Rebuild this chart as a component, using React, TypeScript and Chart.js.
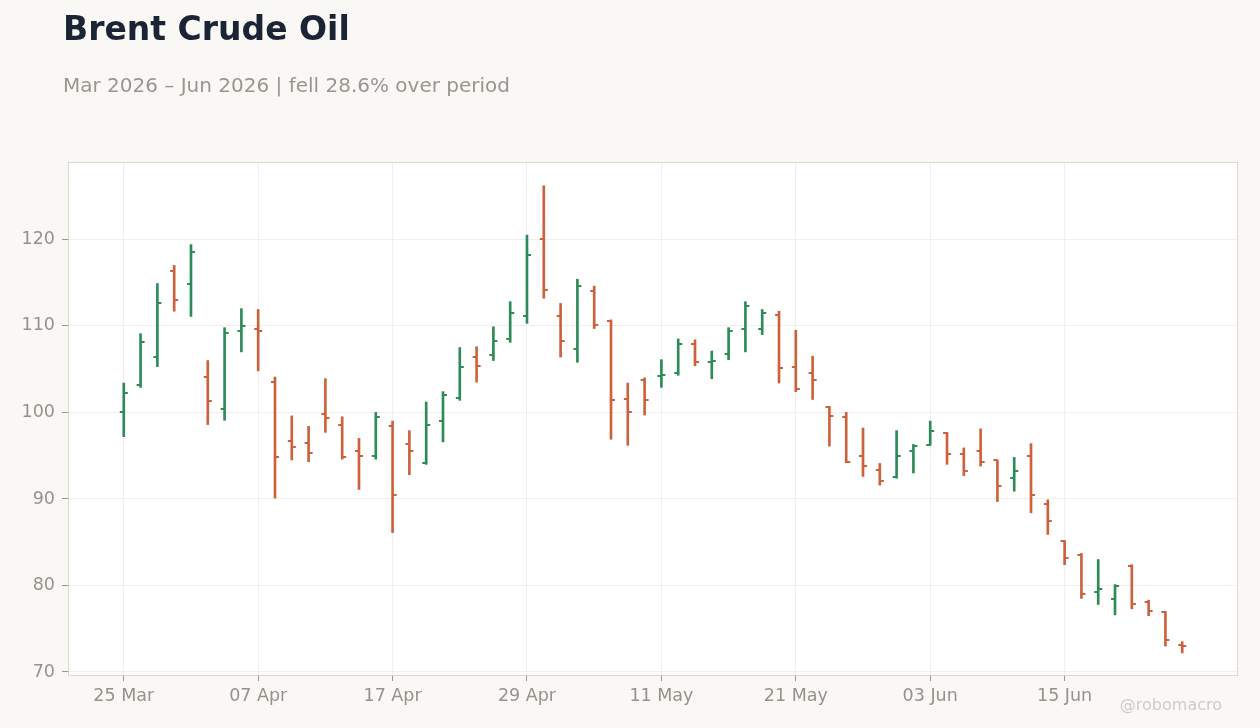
import { useEffect, useRef } from "react";
import { Chart, registerables } from "chart.js";

Chart.register(...registerables);

// trading days (Good Friday and Memorial Day skipped)
const dates = [
  "25 Mar", "26 Mar", "27 Mar", "30 Mar", "31 Mar", "01 Apr", "02 Apr", "06 Apr",
  "07 Apr", "08 Apr", "09 Apr", "10 Apr", "13 Apr", "14 Apr", "15 Apr", "16 Apr",
  "17 Apr", "20 Apr", "21 Apr", "22 Apr", "23 Apr", "24 Apr", "27 Apr", "28 Apr",
  "29 Apr", "30 Apr", "01 May", "04 May", "05 May", "06 May", "07 May", "08 May",
  "11 May", "12 May", "13 May", "14 May", "15 May", "18 May", "19 May", "20 May",
  "21 May", "22 May", "26 May", "27 May", "28 May", "29 May", "01 Jun", "02 Jun",
  "03 Jun", "04 Jun", "05 Jun", "08 Jun", "09 Jun", "10 Jun", "11 Jun", "12 Jun",
  "15 Jun", "16 Jun", "17 Jun", "18 Jun", "19 Jun", "22 Jun", "23 Jun", "24 Jun"
];

const open = [
  100.1, 103.2, 106.4, 116.3, 114.9, 104.1, 100.4, 109.4, 109.7, 103.5, 96.7, 96.5, 99.8, 98.5, 95.6, 95.0,
  98.4, 96.3, 94.1, 99.0, 101.7, 106.4, 106.6, 108.5, 111.1, 120.1, 111.1, 107.3, 114.0, 110.6, 101.6, 103.7,
  104.2, 104.6, 107.9, 105.8, 106.7, 109.7, 109.7, 111.3, 105.3, 104.6, 100.6, 99.5, 95.0, 93.4, 92.5, 95.5,
  96.2, 97.6, 95.2, 95.6, 94.5, 92.4, 95.0, 89.4, 85.1, 83.5, 79.3, 78.4, 82.3, 78.1, 76.9, 73.1
];
const high = [
  103.4, 109.1, 114.9, 117.0, 119.4, 106.0, 109.8, 112.0, 111.9, 104.1, 99.6, 98.4, 103.9, 99.5, 97.0, 100.0,
  99.0, 97.9, 101.2, 102.4, 107.5, 107.6, 109.9, 112.8, 120.5, 126.2, 112.6, 115.4, 114.6, 110.7, 103.4, 104.0,
  106.1, 108.5, 108.4, 107.1, 109.8, 112.8, 111.9, 111.7, 109.5, 106.5, 100.7, 100.0, 98.2, 94.1, 97.9, 96.3,
  99.0, 97.7, 95.9, 98.1, 94.5, 94.8, 96.4, 89.9, 85.2, 83.7, 83.0, 80.1, 82.4, 78.3, 77.0, 73.5
];
const low = [
  97.2, 102.9, 105.3, 111.7, 111.1, 98.6, 99.1, 107.0, 104.8, 90.1, 94.5, 94.3, 97.7, 94.6, 91.1, 94.6,
  86.1, 92.8, 94.0, 96.6, 101.4, 103.5, 106.0, 108.1, 110.3, 113.2, 106.4, 105.8, 109.7, 96.9, 96.2, 99.7,
  102.9, 104.3, 105.4, 103.9, 106.1, 107.0, 109.0, 103.4, 102.4, 101.5, 96.1, 94.2, 92.6, 91.6, 92.4, 93.0,
  96.2, 94.0, 92.7, 93.8, 89.7, 90.9, 88.4, 85.9, 82.4, 78.5, 77.8, 76.6, 77.3, 76.5, 73.0, 72.2
];
const close = [
  102.3, 108.1, 112.7, 113.0, 118.5, 101.3, 109.2, 110.0, 109.4, 94.8, 96.0, 95.3, 99.4, 94.9, 95.0, 99.5,
  90.4, 95.6, 98.6, 102.0, 105.2, 105.4, 108.3, 111.5, 118.2, 114.1, 108.3, 114.6, 110.1, 101.4, 100.1, 101.4,
  104.3, 107.9, 105.8, 105.9, 109.4, 112.3, 111.5, 105.1, 102.7, 103.7, 99.6, 94.3, 93.8, 92.1, 95.0, 96.1,
  97.9, 95.2, 93.2, 94.3, 91.5, 93.2, 90.4, 87.4, 83.2, 79.0, 79.6, 79.9, 77.9, 77.1, 73.7, 73.0
];

const xTickIndex = [0, 8, 16, 24, 32, 40, 48, 56];
const yTickValues = [70, 80, 90, 100, 110, 120];

const UP = "#2e8b57";
const DOWN = "#cb613d";
const TICK_TEXT = "#96918c";
const GRID = "#efefef";
const FRAME = "#ddd7ce";

function makeTick(color: string, side: "left" | "right") {
  const c = document.createElement("canvas");
  c.width = 10;
  c.height = 2;
  const g = c.getContext("2d")!;
  g.fillStyle = color;
  g.fillRect(side === "left" ? 1 : 5, 0, 4, 2);
  return c;
}

const plotFrame = {
  id: "plotFrame",
  beforeDraw(chart: Chart) {
    const { ctx, chartArea } = chart;
    const { left, top, right, bottom } = chartArea;
    ctx.save();
    ctx.fillStyle = "#ffffff";
    ctx.fillRect(left, top, right - left, bottom - top);
    ctx.restore();
  },
  beforeDatasetsDraw(chart: Chart) {
    const { ctx, chartArea } = chart;
    const { left, top, right, bottom } = chartArea;
    ctx.save();
    ctx.strokeStyle = FRAME;
    ctx.lineWidth = 1;
    ctx.strokeRect(left + 0.5, top + 0.5, right - left - 1, bottom - top);
    ctx.restore();
  }
};

function OhlcChart() {
  const canvasRef = useRef<HTMLCanvasElement | null>(null);

  useEffect(() => {
    const canvas = canvasRef.current;
    if (!canvas) return;

    const isUp = close.map((c, i) => c >= open[i]);
    const openUp = makeTick(UP, "left");
    const openDown = makeTick(DOWN, "left");
    const closeUp = makeTick(UP, "right");
    const closeDown = makeTick(DOWN, "right");

    const font = { family: "'DejaVu Sans'", size: 17.5 };

    const chart = new Chart(canvas, {
      type: "bar",
      data: {
        datasets: [
          {
            type: "bar",
            data: dates.map((_, i) => ({ x: i, y: [low[i], high[i]] })) as any,
            backgroundColor: isUp.map((u) => (u ? UP : DOWN)),
            barThickness: 2,
            borderWidth: 0,
            grouped: false
          },
          {
            type: "line",
            data: dates.map((_, i) => ({ x: i, y: open[i] })),
            showLine: false,
            pointStyle: (ctx: any) => (isUp[ctx.dataIndex] ? openUp : openDown),
            pointRadius: 3
          },
          {
            type: "line",
            data: dates.map((_, i) => ({ x: i, y: close[i] })),
            showLine: false,
            pointStyle: (ctx: any) => (isUp[ctx.dataIndex] ? closeUp : closeDown),
            pointRadius: 3
          }
        ] as any
      },
      options: {
        animation: false,
        responsive: false,
        events: [],
        layout: { padding: { top: 162, right: 22, bottom: 0, left: 0 } },
        plugins: { legend: { display: false }, tooltip: { enabled: false } },
        scales: {
          x: {
            type: "linear",
            min: -3.32,
            max: 66.32,
            offset: false,
            afterBuildTicks: (scale: any) => {
              scale.ticks = xTickIndex.map((v) => ({ value: v }));
            },
            afterFit: (scale: any) => {
              scale.height = 53;
            },
            ticks: {
              color: TICK_TEXT,
              font,
              padding: 5,
              maxRotation: 0,
              autoSkip: false,
              callback: (value: any) => dates[Number(value)] ?? ""
            },
            grid: { color: GRID, tickColor: "#9a9590", tickLength: 6, offset: false },
            border: { display: false }
          },
          y: {
            type: "linear",
            min: 69.65,
            max: 128.95,
            afterBuildTicks: (scale: any) => {
              scale.ticks = yTickValues.map((v) => ({ value: v }));
            },
            afterFit: (scale: any) => {
              scale.width = 68;
            },
            ticks: { color: TICK_TEXT, font, padding: 7 },
            grid: { color: GRID, tickColor: "#9a9590", tickLength: 6 },
            border: { display: false }
          }
        }
      },
      plugins: [plotFrame]
    });

    return () => chart.destroy();
  }, []);

  return <canvas ref={canvasRef} width={1260} height={728} style={{ display: "block" }} />;
}

export default function App() {
  useEffect(() => {
    document.body.style.margin = "0";
  }, []);

  return (
    <div
      style={{
        position: "relative",
        width: 1260,
        height: 728,
        background: "#f9f8f5",
        fontFamily: "'DejaVu Sans', sans-serif",
        overflow: "hidden"
      }}
    >
      <OhlcChart />
      <div style={{ position: "absolute", left: 63, top: 12, fontSize: 33, lineHeight: 1, fontWeight: "bold", color: "#1b2434" }}>
        Brent Crude Oil
      </div>
      <div style={{ position: "absolute", left: 63, top: 75, fontSize: 20, lineHeight: 1, color: "#9a9590" }}>
        Mar 2026 – Jun 2026 | fell 28.6% over period
      </div>
      <div style={{ position: "absolute", right: 38, top: 697, fontSize: 16, lineHeight: 1, color: "#d0cbc6" }}>
        @robomacro
      </div>
    </div>
  );
}
